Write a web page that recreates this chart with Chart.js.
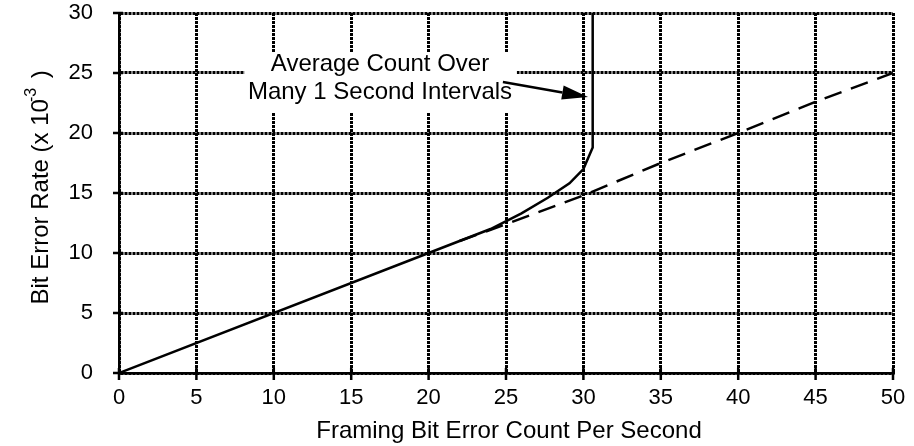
<!DOCTYPE html>
<html>
<head>
<meta charset="utf-8">
<script src="https://cdn.jsdelivr.net/npm/chart.js@4.4.1/dist/chart.umd.min.js"></script>
<style>
  html, body { margin: 0; padding: 0; background: #fff; }
</style>
</head>
<body>
<canvas id="chart" width="914" height="446"></canvas>
<script>
// values
const xTicks = [0, 5, 10, 15, 20, 25, 30, 35, 40, 45, 50];
const yTicks = [0, 5, 10, 15, 20, 25, 30];

// solid curve : average count over many 1 s intervals
const avgX = [0, 20, 24, 26, 27.7, 29.1, 30, 30.6, 30.6];
const avgY = [0, 10, 12, 13.3, 14.6, 15.8, 17.0, 18.8, 30];

// dashed line
const dashX = [22, 25, 30, 35, 40, 45, 50];
const dashY = [11, 12.4, 14.8, 17.5, 20, 22.6, 25];

const xTitle = 'Framing Bit Error Count Per Second';
const yTitle = 'Bit Error Rate (x 10';
const yTitleSup = '-3';
const yTitleEnd = ' )';

const noteLines = ['Average Count Over', 'Many 1 Second Intervals'];
// note box, text and arrow in data units
const noteBox = { x0: 8.1, x1: 25.7, y0: 21.75, y1: 26.75 };
const noteText = { x: 16.86, y: [25.75, 23.35] };
const noteArrow = { fromX: 24.8, fromY: 24.25, toX: 30.3, toY: 23.0 };

const FONT = '"Liberation Sans", Arial, sans-serif';

function pts(xs, ys) {
    return xs.map((x, i) => ({ x: x, y: ys[i] }));
}

const extras = {
    id: 'extras',
    beforeDatasetsDraw(chart) {
        // white box behind the note, hides the grid
        const { ctx, scales: { x, y } } = chart;
        const l = x.getPixelForValue(noteBox.x0), r = x.getPixelForValue(noteBox.x1);
        const t = y.getPixelForValue(noteBox.y1), b = y.getPixelForValue(noteBox.y0);
        ctx.save();
        ctx.fillStyle = '#fff';
        ctx.fillRect(l, t, r - l, b - t);
        ctx.restore();
    },
    afterDraw(chart) {
        const { ctx, chartArea: a, scales: { x, y } } = chart;
        ctx.save();
        ctx.strokeStyle = '#000';
        ctx.fillStyle = '#000';

        // tick marks across the axes
        ctx.lineWidth = 2.5;
        ctx.beginPath();
        xTicks.forEach(v => {
            const px = x.getPixelForValue(v);
            ctx.moveTo(px, a.bottom - 5);
            ctx.lineTo(px, a.bottom + 7);
        });
        yTicks.forEach(v => {
            const py = y.getPixelForValue(v);
            ctx.moveTo(a.left - 6, py);
            ctx.lineTo(a.left + 4, py);
        });
        ctx.stroke();

        // x title
        ctx.font = '24px ' + FONT;
        ctx.textAlign = 'center';
        ctx.textBaseline = 'alphabetic';
        ctx.fillText(xTitle, (a.left + a.right) / 2 + 3, 438);

        // y title with superscript
        ctx.save();
        ctx.font = '24px ' + FONT;
        const w1 = ctx.measureText(yTitle).width;
        ctx.font = '16px ' + FONT;
        const w2 = ctx.measureText(yTitleSup).width;
        ctx.font = '24px ' + FONT;
        const w3 = ctx.measureText(yTitleEnd + ' ').width;
        const total = w1 + w2 + w3;
        ctx.translate(48, 184 + total / 2);
        ctx.rotate(-Math.PI / 2);
        ctx.textAlign = 'left';
        ctx.fillText(yTitle, 0, 0);
        ctx.font = '16px ' + FONT;
        ctx.fillText(yTitleSup, w1 - 3, -12);
        ctx.font = '24px ' + FONT;
        ctx.fillText(yTitleEnd + ' ', w1 + w2, 0);
        ctx.restore();

        // note text
        ctx.font = '24px ' + FONT;
        ctx.textAlign = 'center';
        ctx.textBaseline = 'middle';
        noteLines.forEach((s, i) => {
            ctx.fillText(s, x.getPixelForValue(noteText.x), y.getPixelForValue(noteText.y[i]));
        });

        // arrow
        const x0 = x.getPixelForValue(noteArrow.fromX), y0 = y.getPixelForValue(noteArrow.fromY);
        const x1 = x.getPixelForValue(noteArrow.toX), y1 = y.getPixelForValue(noteArrow.toY);
        const ang = Math.atan2(y1 - y0, x1 - x0);
        const hl = 26, hw = 7;
        const bx = x1 - hl * Math.cos(ang), by = y1 - hl * Math.sin(ang);
        ctx.lineWidth = 2.5;
        ctx.beginPath();
        ctx.moveTo(x0, y0);
        ctx.lineTo(bx, by);
        ctx.stroke();
        ctx.beginPath();
        ctx.moveTo(x1, y1);
        ctx.lineTo(bx + hw * Math.sin(ang), by - hw * Math.cos(ang));
        ctx.lineTo(bx - hw * Math.sin(ang), by + hw * Math.cos(ang));
        ctx.closePath();
        ctx.fill();

        ctx.restore();
    }
};

// dotted grid, solid axes
const gridStyle = { color: '#000', lineWidth: 3, drawTicks: false };
const borderStyle = { display: true, color: '#000', width: 2.5, dash: [3, 1] };

new Chart(document.getElementById('chart'), {
    type: 'scatter',
    data: {
        datasets: [{
            label: 'Average count',
            data: pts(avgX, avgY),
            showLine: true,
            borderColor: '#000',
            borderWidth: 2.5,
            pointRadius: 0,
            tension: 0,
        }, {
            label: 'Dashed',
            data: pts(dashX, dashY),
            showLine: true,
            borderColor: '#000',
            borderWidth: 2.5,
            borderDash: [18, 10],
            pointRadius: 0,
            tension: 0,
        }]
    },
    options: {
        responsive: false,
        animation: false,
        devicePixelRatio: 1,
        layout: { padding: { top: 13, right: 21, left: 0, bottom: 0 } },
        plugins: { legend: { display: false }, tooltip: { enabled: false } },
        scales: {
            x: {
                type: 'linear',
                min: 0, max: 50,
                afterBuildTicks: s => { s.ticks = xTicks.map(v => ({ value: v })); },
                afterFit: s => { s.height = 73; s.paddingLeft = 0; s.paddingRight = 0; },
                ticks: { color: '#000', font: { family: FONT, size: 22 }, padding: 12 },
                grid: gridStyle,
                border: borderStyle,
            },
            y: {
                type: 'linear',
                min: 0, max: 30,
                afterBuildTicks: s => { s.ticks = yTicks.map(v => ({ value: v })); },
                afterFit: s => { s.width = 119; s.paddingTop = 0; s.paddingBottom = 0; },
                ticks: { color: '#000', font: { family: FONT, size: 22 }, padding: 26 },
                grid: gridStyle,
                border: borderStyle,
            }
        }
    },
    plugins: [extras]
});
</script>
</body>
</html>
